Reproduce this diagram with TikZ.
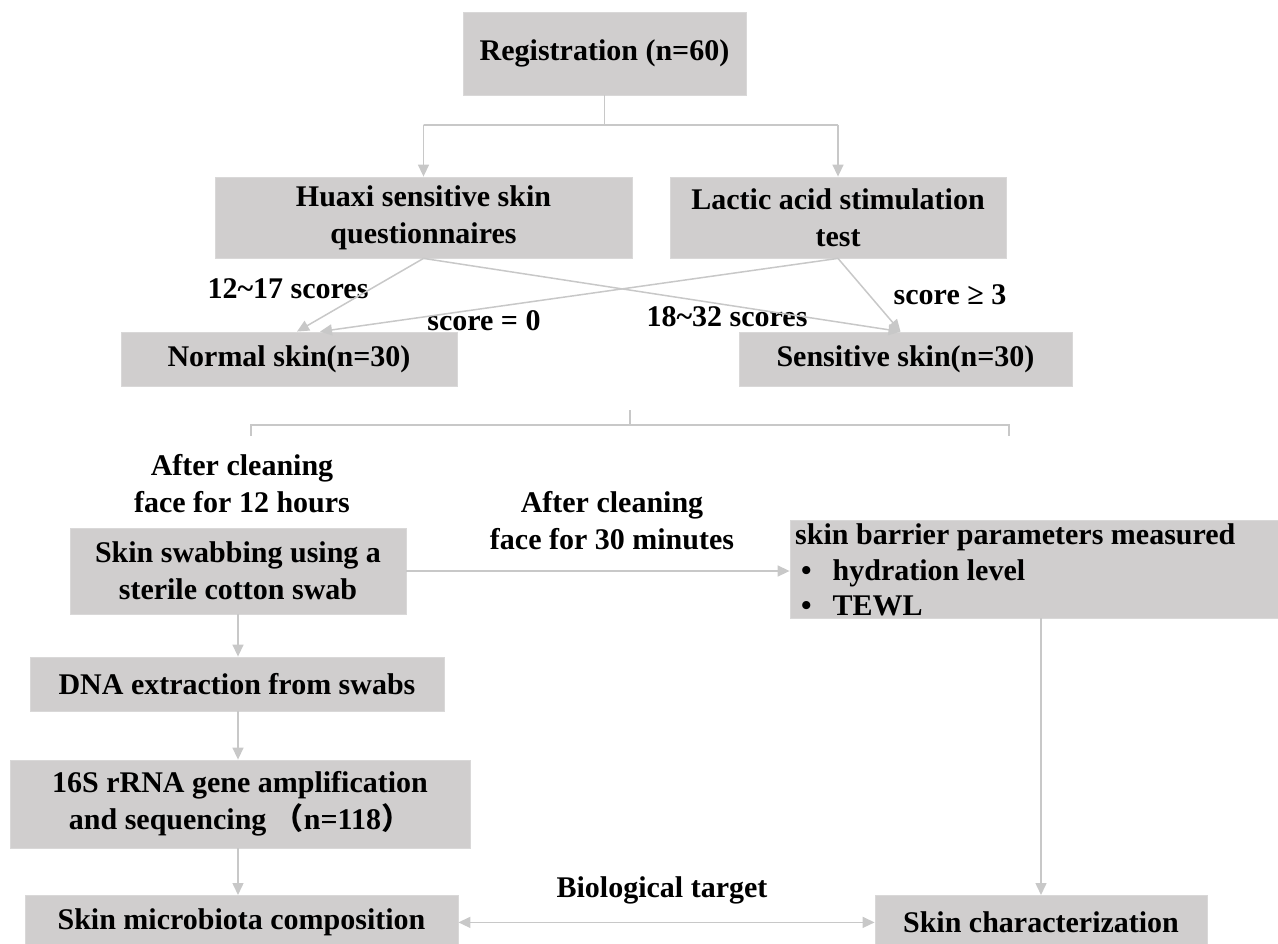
\documentclass[tikz,border=0pt]{standalone}
\usepackage{fontspec}
\setmainfont{Liberation Serif}
\newfontfamily\cjk{Noto Sans CJK SC}
\usetikzlibrary{arrows.meta}
\definecolor{boxgray}{HTML}{D0CECE}
\definecolor{linegray}{HTML}{C8C8C8}
\tikzset{
  box/.style={fill=boxgray, draw=boxgray!80!white, line width=0.8pt, inner sep=0pt, align=center,
    font=\fontsize{30}{37}\selectfont\bfseries},
  lbl/.style={inner sep=0pt, align=center, font=\fontsize{30}{37}\selectfont\bfseries},
  conn/.style={draw=linegray, line width=1.5pt},
  arr/.style={conn, -{Triangle[length=12pt,width=11pt,fill=linegray]}},
  darr/.style={conn, {Triangle[length=12pt,width=11pt,fill=linegray]}-{Triangle[length=12pt,width=11pt,fill=linegray]}}
}
\begin{document}
\begin{tikzpicture}[x=1pt,y=-1pt]
\useasboundingbox (0,0) rectangle (1278,944);
% boxes
\node[box, minimum width=283pt, minimum height=83pt] (reg) at (604.5,53.5) {Registration (n=60)};
\node[box, minimum width=417pt, minimum height=81pt] (huaxi) at (423.5,217.5) {Huaxi sensitive skin\\questionnaires};
\node[box, minimum width=336pt, minimum height=81pt] (lactic) at (838,217.5) {Lactic acid stimulation\\test};
\node[box, minimum width=336pt, minimum height=54pt] (normal) at (289,359) {Normal skin(n=30)};
\node[box, minimum width=333pt, minimum height=54pt] (sens) at (905.5,359) {Sensitive skin(n=30)};
\node[box, minimum width=336pt, minimum height=86pt] (swab) at (238,571) {Skin swabbing using a\\sterile cotton swab};
\node[box, minimum width=488pt, minimum height=98pt] (barrier) at (1034,569) {};
\node[lbl, anchor=west, align=left, font=\fontsize{30}{35.5}\selectfont\bfseries] (barriertxt) at (795,570) {skin barrier parameters measured\\
  \hspace{6pt}\textbullet\hspace{21pt}hydration level\\
  \hspace{6pt}\textbullet\hspace{21pt}TEWL};
\node[box, minimum width=414pt, minimum height=54pt] (dna) at (237,684) {DNA extraction from swabs};
\node[box, minimum width=460pt, minimum height=88pt] (seq) at (240,804) {16S rRNA gene amplification\\and sequencing {\cjk （}n=118{\cjk ）}};
\node[box, minimum width=433pt, minimum height=54pt, anchor=north] (micro) at (241.5,895) {Skin microbiota composition};
\node[box, minimum width=332pt, minimum height=54pt, anchor=north] (char) at (1041,895) {Skin characterization};
% labels
\node[lbl] (l1217) at (288,289) {12\textasciitilde17 scores};
\node[lbl] (l0) at (484,321) {score = 0};
\node[lbl] (l1832) at (727,317) {18\textasciitilde32 scores};
\node[lbl] (l3) at (950,295) {score ≥ 3};
\node[lbl] (l12h) at (242,484) {After cleaning\\face for 12 hours};
\node[lbl] (l30m) at (612,521) {After cleaning\\face for 30 minutes};
\node[lbl] (lbio) at (662,890) {Biological target};
% registration split
\coordinate (split) at (604.5,125);
\draw[conn] (reg.south) -- (split);
\draw[conn] (split) -- (huaxi.south |- split) -- (lactic.south |- split);
\draw[arr] (huaxi.south |- split) -- (huaxi.north);
\draw[arr] (lactic.south |- split) -- (lactic.north);
% crossing
\draw[arr] (huaxi.south) -- ([xshift=8pt]normal.north);
\draw[arr] (huaxi.south) -- ([xshift=-5pt]sens.north);
\draw[arr] (lactic.south) -- ([xshift=31pt]normal.north);
\draw[arr] (lactic.south) -- ([xshift=-5pt]sens.north);
% bracket
\coordinate (bt) at (630,410);
\coordinate (bm) at (630,425);
\coordinate (bl) at (251,425);
\coordinate (br) at (1009,425);
\draw[conn] (bt) -- (bm);
\draw[conn] ([yshift=-11pt]bl) -- (bl) -- (br) -- ([yshift=-11pt]br);
% flow
\draw[arr] (swab.east) -- (barrier.west |- swab.east);
\draw[arr] (swab.south) -- (swab.south |- dna.north);
\draw[arr] (swab.south |- dna.south) -- (swab.south |- seq.north);
\draw[arr] (swab.south |- seq.south) -- (swab.south |- micro.north);
\draw[arr] (char.north |- barrier.south) -- (char.north);
\draw[darr] (micro.east) -- (char.west);
\end{tikzpicture}
\end{document}
